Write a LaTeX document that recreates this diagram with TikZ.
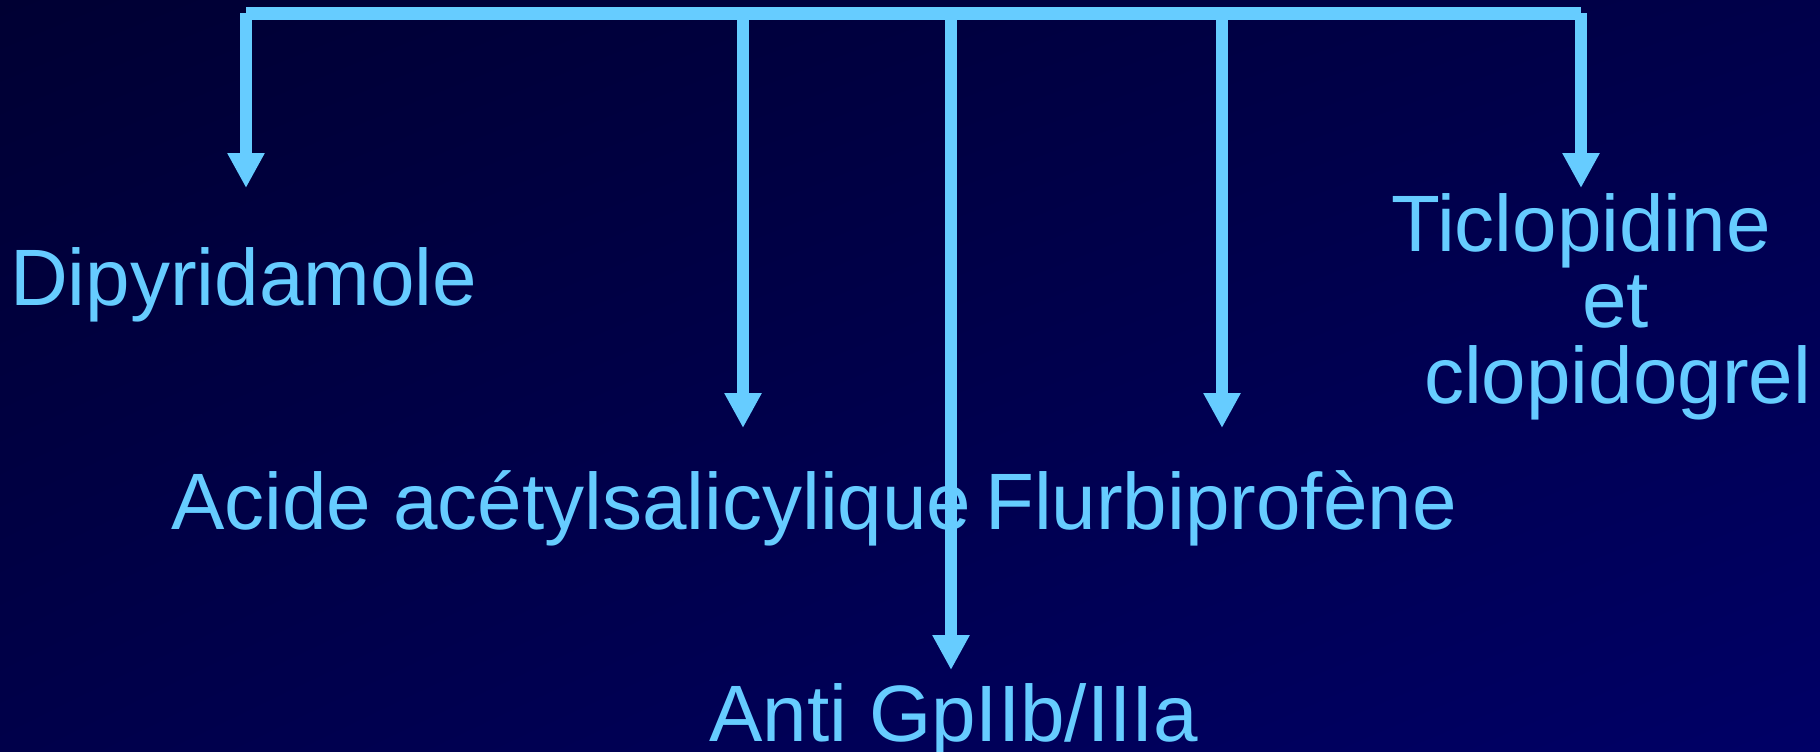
\documentclass[tikz,border=0pt]{standalone}
\usepackage{fontspec}
\setmainfont{Liberation Sans}
\usetikzlibrary{arrows.meta,shadings}
\definecolor{bgdark}{HTML}{000033}
\definecolor{bgmid}{HTML}{00004A}
\definecolor{bglight}{HTML}{000066}
\definecolor{cyanline}{HTML}{66CCFF}
\tikzset{
  conn/.style={draw=cyanline, line width=12.5pt, line cap=butt},
  arr/.style={conn, -{Triangle[width=35pt,length=35pt]}},
  lbl/.style={text=cyanline, inner sep=0pt, anchor=base west, font=\fontsize{80}{90}\selectfont}
}
\begin{document}
\begin{tikzpicture}[x=1pt,y=-1pt]
\useasboundingbox (0,0) rectangle (1820,752);
\shade[upper left=bgdark, upper right=bgmid, lower left=bgmid, lower right=bglight] (0,0) rectangle (1820,752);

% labels
\node[lbl] (dip) at (10,305) {Dipyridamole};
\node[lbl] (asa) at (171,529) {Acide acétylsalicylique};
\node[lbl] (flu) at (985,529) {Flurbiprofène};
\node[lbl] (gp) at (709,741) {Anti GpIIb/IIIa};
\node[lbl] (tic) at (1391,251) {Ticlopidine};
\node[lbl] (et) at (1582,327) {et};
\node[lbl] (clo) at (1424,403) {clopidogrel};

% bar coordinates
\coordinate (bL) at (246,13.5);
\coordinate (bR) at (1581,13.5);
\coordinate (b1) at (743,13.5);
\coordinate (b2) at (951,13.5);
\coordinate (b3) at (1222,13.5);
% tips
\coordinate (tD) at (246,188);
\coordinate (tA) at (743,428);
\coordinate (tG) at (951,670);
\coordinate (tF) at (1222,428);
\coordinate (tT) at (1581,188);

\draw[conn] (bL) -- (bR);
\draw[arr] (bL) -- (tD);
\draw[arr] (b1) -- (tA);
\draw[arr] (b2) -- (tG);
\draw[arr] (b3) -- (tF);
\draw[arr] (bR) -- (tT);
\end{tikzpicture}
\end{document}
